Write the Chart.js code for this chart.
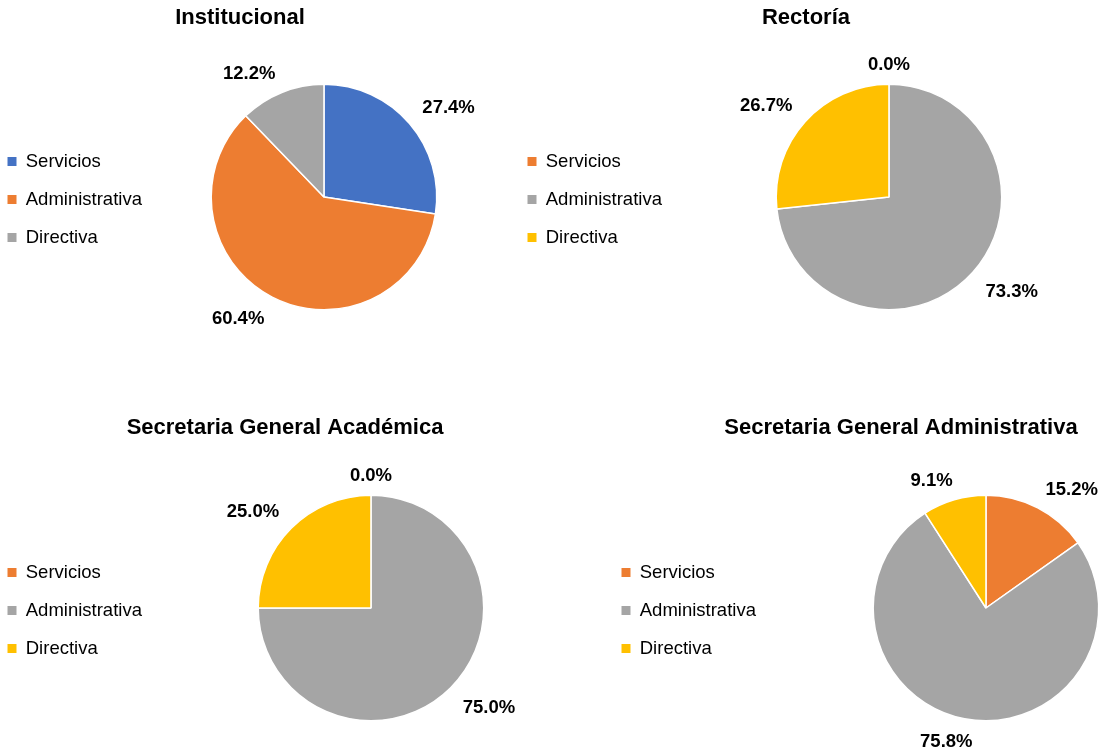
<!DOCTYPE html>
<html>
<head>
<meta charset="utf-8">
<title>Distribución por tipo de cargo</title>
<script src="https://cdn.jsdelivr.net/npm/chart.js@4.4.1/dist/chart.umd.min.js"></script>
<style>
  body { margin: 0; background: #fff; overflow: hidden; width: 1099px; height: 750px; position: relative; }
  canvas { position: absolute; }
</style>
</head>
<body>
<canvas id="chartInst" width="504" height="345" style="left:-12px;top:0px"></canvas>
<canvas id="chartRect" width="596" height="345" style="left:508px;top:0px"></canvas>
<canvas id="chartAcad" width="594" height="345" style="left:-12px;top:410px"></canvas>
<canvas id="chartAdmin" width="598" height="345" style="left:602px;top:410px"></canvas>
<script>
// categorias y valores (porcentajes)
var categories = ['Servicios', 'Administrativa', 'Directiva'];
var institucional = [27.4, 60.4, 12.2];
var rectoria = [0.0, 73.3, 26.7];
var academica = [0.0, 75.0, 25.0];
var administrativa = [15.2, 75.8, 9.1];

var colorsInst = ['#4472C4', '#ED7D31', '#A5A5A5'];
var colorsOtros = ['#ED7D31', '#A5A5A5', '#FFC000'];

var FONT = '"Liberation Sans", Arial, sans-serif';

// etiquetas de porcentaje fuera del borde (como Excel "extremo externo")
var outsideLabels = {
  id: 'outsideLabels',
  afterDatasetsDraw: function(chart) {
    var ctx = chart.ctx;
    var meta = chart.getDatasetMeta(0);
    var values = chart.data.datasets[0].data;
    ctx.save();
    ctx.font = 'bold 18.5px ' + FONT;
    ctx.fillStyle = '#000';
    ctx.textAlign = 'center';
    ctx.textBaseline = 'middle';
    meta.data.forEach(function(arc, i) {
      var p = arc.getProps(['x', 'y', 'startAngle', 'endAngle', 'outerRadius'], true);
      var mid = (p.startAngle + p.endAngle) / 2;
      var txt = values[i].toFixed(1) + '%';
      var w = ctx.measureText(txt).width;
      var cos = Math.cos(mid), sin = Math.sin(mid);
      var kx = Math.max(-1, Math.min(1, cos * 3));
      var ky = Math.max(-1, Math.min(1, sin * 3));
      var hh = sin > 0 ? 13 : 9;
      var x = p.x + cos * (p.outerRadius + 17) + kx * w / 2;
      var y = p.y + sin * (p.outerRadius + 10) + ky * hh;
      ctx.fillText(txt, x, y);
    });
    ctx.restore();
  }
};

// la leyenda ocupa un poco mas de ancho (empuja el pastel a la derecha)
// y se baja un par de pixeles
var legendExtra = {
  id: 'legendExtra',
  beforeLayout: function(chart, args, opts) {
    var lg = chart.legend;
    if (!lg || lg._extraDone) return;
    var origFit = lg.fit;
    lg.fit = function() {
      origFit.call(this);
      this.width += opts.extra || 0;
    };
    lg._extraDone = true;
  },
  afterLayout: function(chart) {
    if (!chart.legend) return;
    chart.legend.top += 2.5;
    chart.legend.bottom += 2.5;
  }
};

function makePie(id, titleText, values, colors, titleBottom, padBottom, extra) {
  new Chart(document.getElementById(id), {
    type: 'pie',
    data: {
      labels: categories,
      datasets: [{
        data: values,
        backgroundColor: colors,
        borderColor: '#fff',
        borderWidth: 1.5
      }]
    },
    options: {
      responsive: false,
      animation: false,
      layout: { padding: { top: 0, left: 0, right: 0, bottom: padBottom } },
      plugins: {
        title: {
          display: true,
          text: titleText,
          color: '#000',
          font: { family: FONT, size: 22, weight: 'bold' },
          padding: { top: 5, bottom: titleBottom }
        },
        legend: {
          position: 'left',
          fullSize: false,
          labels: {
            boxWidth: 9,
            boxHeight: 9,
            padding: 19.5,
            color: '#000',
            font: { family: FONT, size: 18.5 },
            generateLabels: function(chart) {
              var ds = chart.data.datasets[0];
              return chart.data.labels.map(function(label, i) {
                return { text: label, fillStyle: ds.backgroundColor[i], strokeStyle: ds.backgroundColor[i],
                  lineWidth: 0, hidden: false, index: i, fontColor: '#000' };
              });
            }
          }
        },
        legendExtra: { extra: extra },
        tooltip: { enabled: false }
      }
    },
    plugins: [outsideLabels, legendExtra]
  });
}

makePie('chartInst', 'Institucional', institucional, colorsInst, 52.1, 34.5, 4);
makePie('chartRect', 'Rectoría', rectoria, colorsOtros, 52.1, 34.5, 2);
makePie('chartAcad', 'Secretaria General Académica', academica, colorsOtros, 53.1, 33.5, 8);
makePie('chartAdmin', 'Secretaria General Administrativa', administrativa, colorsOtros, 53.1, 33.5, 6);
</script>
</body>
</html>
